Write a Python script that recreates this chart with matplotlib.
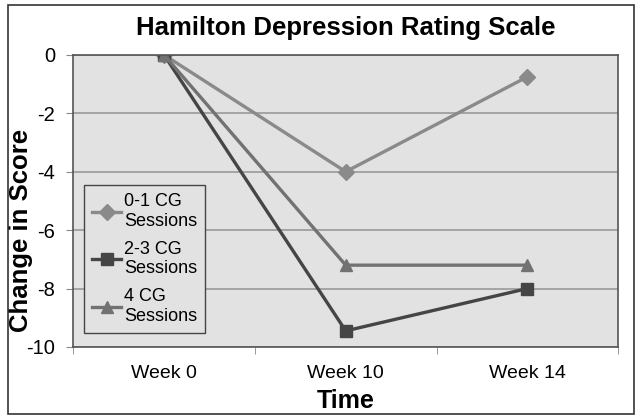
import matplotlib.pyplot as plt
from matplotlib.patches import Rectangle

plt.rcParams['font.family'] = ['Liberation Sans', 'DejaVu Sans']

weeks = ["Week 0", "Week 10", "Week 14"]
cg_01 = [0, -4.0, -0.75]
cg_23 = [0, -9.45, -8.0]
cg_4 = [0, -7.2, -7.2]

fig = plt.figure(figsize=(6.42, 4.19), dpi=100)
ax = fig.add_axes([0.114, 0.172, 0.849, 0.697])
ax.set_facecolor("#e2e2e2")

x = range(len(weeks))
ax.plot(x, cg_01, color="#8a8a8a", lw=2.4, marker="D", ms=8, label="0-1 CG\nSessions")
ax.plot(x, cg_23, color="#454545", lw=2.4, marker="s", ms=9, label="2-3 CG\nSessions")
ax.plot(x, cg_4, color="#727272", lw=2.4, marker="^", ms=9, label="4 CG\nSessions")

ax.set_xlim(-0.5, 2.5)
ax.set_ylim(-10, 0)
ax.set_yticks(range(-10, 1, 2))
ax.set_yticklabels([str(v) for v in range(-10, 1, 2)], fontsize=14.5)
ax.set_xticks(list(x))
ax.set_xticklabels(weeks, fontsize=14)
ax.set_xticks([-0.5, 0.5, 1.5, 2.5], minor=True)
ax.tick_params(axis="x", which="major", length=0, pad=13)
ax.tick_params(axis="x", which="minor", length=5, color="#888888")
ax.tick_params(axis="y", length=5, color="#888888", pad=8)
ax.grid(axis="y", color="#999999", lw=1.2)
ax.set_axisbelow(True)
for s in ax.spines.values():
    s.set_color("#555555")
    s.set_linewidth(1.2)

ax.set_title("Hamilton Depression Rating Scale", fontsize=18.5, fontweight="bold", pad=14)
ax.set_xlabel("Time", fontsize=18, fontweight="bold", labelpad=5)
ax.set_ylabel("Change in Score", fontsize=18.5, fontweight="bold")
ax.yaxis.set_label_coords(-0.074, 0.4)

leg = ax.legend(loc="lower left", bbox_to_anchor=(0.02, 0.048), fontsize=13,
                frameon=True, fancybox=False, handlelength=1.6, handletextpad=0.15,
                labelspacing=0.6, borderpad=0.45, borderaxespad=0)
leg.get_frame().set_edgecolor("#444444")
leg.get_frame().set_facecolor("#e2e2e2")
leg.get_frame().set_alpha(1)

fig.patches.append(Rectangle((0.012, 0.012), 0.976, 0.976, transform=fig.transFigure,
                             fill=False, edgecolor="#333333", lw=1.2))

fig.savefig("out.png", dpi=100)
